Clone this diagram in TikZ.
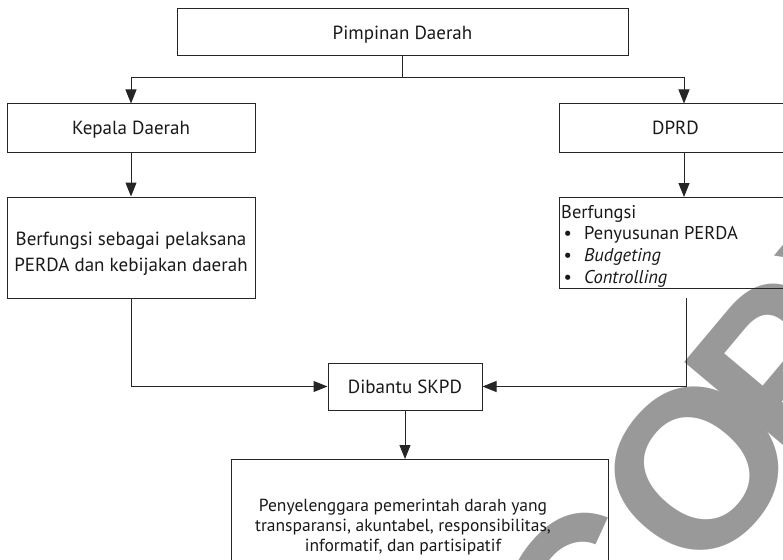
\documentclass[tikz,border=0pt]{standalone}
\usepackage{fontspec}
\setmainfont{PT Sans}
\newfontfamily\wmfont{Liberation Sans}
\usetikzlibrary{arrows.meta}
\newcommand\tabc[1]{\begin{tabular}[t]{@{}c@{}}#1\end{tabular}}
\newcommand\tabl[1]{\begin{tabular}[t]{@{}l@{}}#1\end{tabular}}
\newcommand\bul{\makebox[23pt][l]{\hspace{2.5pt}\textbullet}}
\begin{document}
\begin{tikzpicture}[x=1pt,y=-1pt,
  box/.style={draw=black!85, line width=1pt, rectangle, inner sep=0pt, text=black!90,
    font=\fontsize{19}{22}\selectfont, text height=13.5pt, text depth=0pt},
  txt/.style={inner sep=0pt, text=black!90, anchor=base},
  link/.style={draw=black!85, line width=1pt},
  arr/.style={link, -{Triangle[length=14pt,width=11pt]}},
  wmark/.style={rotate=50, text=black!40, inner sep=0pt,
    font=\wmfont\bfseries\fontsize{225}{225}\selectfont}
]
\useasboundingbox (0,0) rectangle (783,559);
\clip (0,0) rectangle (783,559);
% watermark
\node[wmark] (wm) at (732,427) {CO\kern-30pt PY};
% boxes
\node[box, minimum width=451, minimum height=47] (top) at (402.5,32.5) {Pimpinan Daerah};
\node[box, minimum width=248, minimum height=48] (kepala) at (131,128) {Kepala Daerah};
\node[box, minimum width=232, minimum height=48, anchor=west] (dprd) at (559,128) {DPRD};
\node[box, minimum width=248, minimum height=101] (fungsiL) at (131,247.5) {};
\node[box, minimum width=260, minimum height=91, anchor=north west] (fungsiR) at (559,197) {};
\node[box, minimum width=154, minimum height=47] (skpd) at (405,386.5) {Dibantu SKPD};
\node[box, minimum width=377, minimum height=150, anchor=north west] (bottom) at (231,459) {};
% texts
\node[txt, font=\fontsize{19}{26}\selectfont] (fungsiLtxt) at (131,245)
  {\tabc{Berfungsi sebagai pelaksana\\PERDA dan kebijakan daerah}};
\node[txt, anchor=base west, font=\fontsize{18.5}{21.7}\selectfont] (fungsiRtxt) at (561,218)
  {\tabl{Berfungsi\\\bul Penyusunan PERDA\\\bul\textit{Budgeting}\\\bul\textit{Controlling}}};
\node[txt, font=\fontsize{17.5}{20}\selectfont] (bottomtxt) at (403,511)
  {\tabc{Penyelenggara pemerintah darah yang\\transparansi, akuntabel, responsibilitas,\\informatif, dan partisipatif}};
% connectors
\coordinate (busY) at (0,78);
\coordinate (rx) at (684,0);
\coordinate (rs) at (686,298);
\draw[link] (top.south) -- (top.south |- busY);
\draw[arr] (top.south |- busY) -| (kepala.north);
\draw[arr] (top.south |- busY) -| (rx |- dprd.north);
\draw[arr] (kepala.south) -- (fungsiL.north);
\draw[arr] (rx |- dprd.south) -- (rx |- fungsiR.north);
\draw[arr] (fungsiL.south) |- (skpd.west);
\draw[arr] (rs) |- (skpd.east);
\draw[arr] (skpd.south) -- (skpd.south |- bottom.north);
\end{tikzpicture}
\end{document}
